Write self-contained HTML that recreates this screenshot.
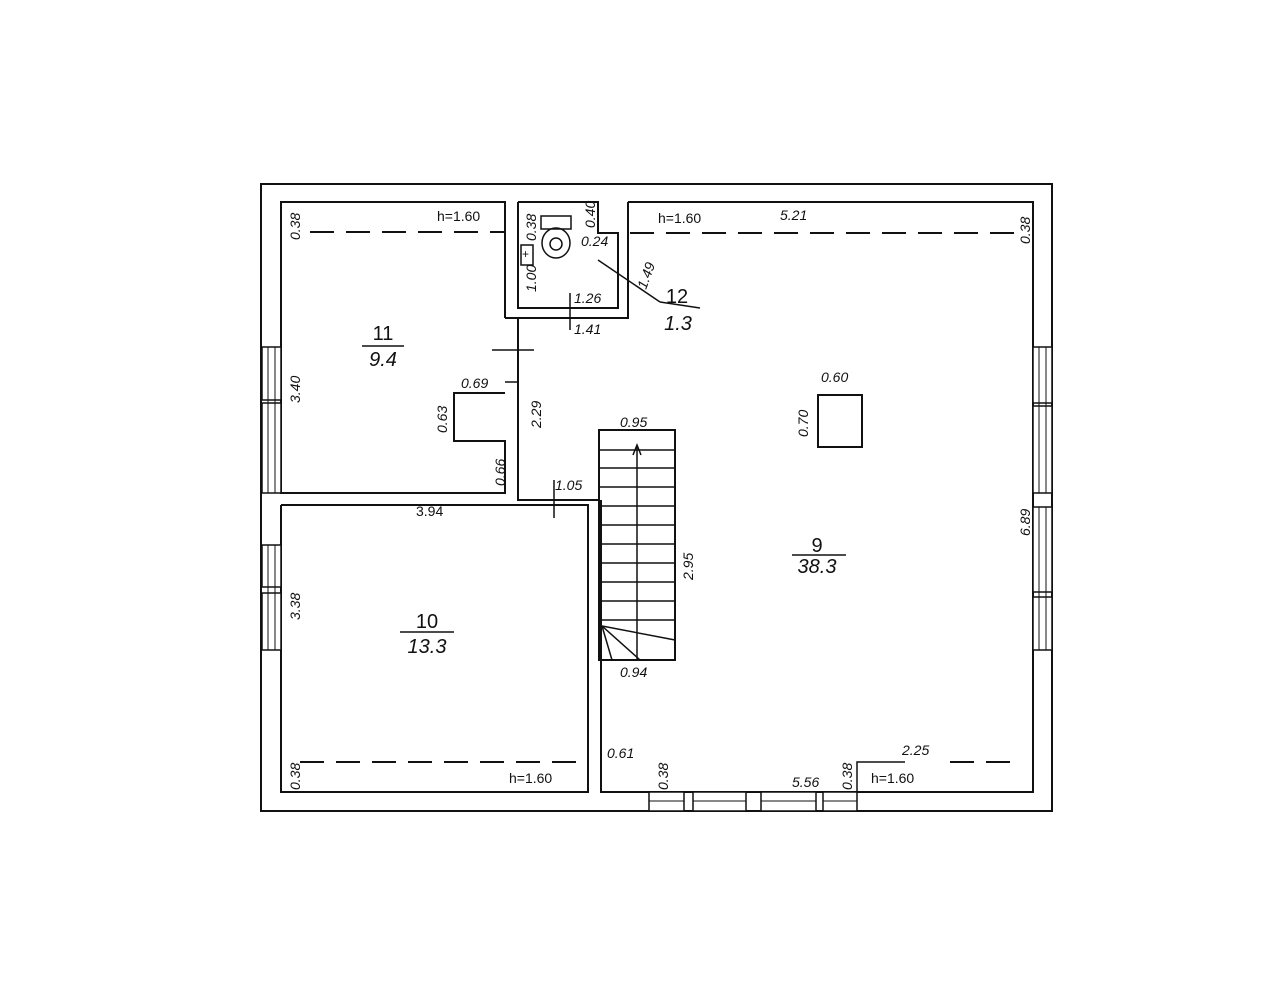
<!DOCTYPE html>
<html><head><meta charset="utf-8"><style>
html,body{margin:0;padding:0;background:#fff;}
svg{display:block;}
text{font-family:"Liberation Sans",sans-serif;fill:#111;}
.d{font-size:14px;font-style:italic;}
.u{font-size:14px;}
.r{font-size:20px;}
</style></head><body>
<svg width="1276" height="1003" viewBox="0 0 1276 1003" xmlns="http://www.w3.org/2000/svg">
<g fill="none" stroke="#111" stroke-width="2">
<rect x="261" y="184" width="791" height="627"/>
<polyline points="505,318 505,202 281,202 281,493 505,493 505,441 454,441 454,393 505,393"/>
<polyline points="505,318 628,318 628,202"/>
<polyline points="518,202 598,202 598,233 618,233 618,308 518,308 518,202"/>
<polyline points="518,318 518,500 598,500"/>
<polyline points="281,505 588,505 588,792 281,792 281,505"/>
<polyline points="628,202 1033,202 1033,792 601,792 601,500"/>
<rect x="599" y="430" width="76" height="230"/>
<line x1="637" y1="445" x2="637" y2="660" stroke-width="1.5"/>
</g>
<g stroke="#111" stroke-width="1.5">
<line x1="599" y1="450" x2="675" y2="450"/><line x1="599" y1="468" x2="675" y2="468"/>
<line x1="599" y1="487" x2="675" y2="487"/><line x1="599" y1="506" x2="675" y2="506"/>
<line x1="599" y1="525" x2="675" y2="525"/><line x1="599" y1="544" x2="675" y2="544"/>
<line x1="599" y1="563" x2="675" y2="563"/><line x1="599" y1="582" x2="675" y2="582"/>
<line x1="599" y1="601" x2="675" y2="601"/><line x1="599" y1="620" x2="675" y2="620"/>
<line x1="602" y1="626" x2="675" y2="640"/><line x1="602" y1="626" x2="640" y2="660"/><line x1="602" y1="626" x2="612" y2="660"/>
<polyline points="633,455 637,445 641,455" fill="none"/>
<rect x="818" y="395" width="44" height="52" fill="none" stroke-width="2"/>
<line x1="492" y1="350" x2="534" y2="350"/><line x1="570" y1="293" x2="570" y2="330"/>
<line x1="554" y1="480" x2="554" y2="518"/><line x1="598" y1="260" x2="660" y2="302"/><line x1="660" y1="302" x2="700" y2="308"/>
<line x1="505" y1="382" x2="518" y2="382"/>
</g>
<g stroke="#111" stroke-width="2" stroke-dasharray="24,12" fill="none">
<line x1="310" y1="232" x2="505" y2="232"/>
<line x1="630" y1="233" x2="1022" y2="233"/>
<line x1="300" y1="762" x2="588" y2="762"/>
<line x1="950" y1="762" x2="1022" y2="762"/>
</g>
<polyline points="857,792 857,762 905,762" fill="none" stroke="#111" stroke-width="1.5"/>
<g fill="#fff" stroke="#111" stroke-width="1.5">
<rect x="262" y="347" width="19" height="53"/><rect x="262" y="403" width="19" height="90"/>
<rect x="262" y="545" width="19" height="42"/><rect x="262" y="593" width="19" height="57"/>
<rect x="1033" y="347" width="19" height="56"/><rect x="1033" y="406" width="19" height="87"/>
<rect x="1033" y="507" width="19" height="85"/><rect x="1033" y="597" width="19" height="53"/>
<rect x="649" y="792" width="35" height="19"/><rect x="693" y="792" width="53" height="19"/>
<rect x="761" y="792" width="55" height="19"/><rect x="823" y="792" width="34" height="19"/>
</g>
<g stroke="#111" stroke-width="1"><line x1="268" y1="347" x2="268" y2="493"/><line x1="275" y1="347" x2="275" y2="493"/>
<line x1="268" y1="545" x2="268" y2="650"/><line x1="275" y1="545" x2="275" y2="650"/>
<line x1="1039" y1="347" x2="1039" y2="493"/><line x1="1046" y1="347" x2="1046" y2="493"/>
<line x1="1039" y1="507" x2="1039" y2="650"/><line x1="1046" y1="507" x2="1046" y2="650"/>
<line x1="649" y1="801" x2="684" y2="801"/><line x1="693" y1="801" x2="746" y2="801"/>
<line x1="761" y1="801" x2="816" y2="801"/><line x1="823" y1="801" x2="857" y2="801"/></g>
<rect x="541" y="216" width="30" height="13" fill="none" stroke="#111" stroke-width="1.5"/>
<ellipse cx="556" cy="243" rx="14" ry="15" fill="none" stroke="#111" stroke-width="1.5"/>
<circle cx="556" cy="244" r="6" fill="none" stroke="#111" stroke-width="1.5"/>
<rect x="521" y="245" width="12" height="20" fill="none" stroke="#111" stroke-width="1.5"/>
<text x="522" y="258" font-size="12">+</text>
<text class="r" x="383" y="340" text-anchor="middle">11</text><line x1="362" y1="346" x2="404" y2="346" stroke="#111" stroke-width="1.5"/><text class="r" x="383" y="366" text-anchor="middle" font-style="italic">9.4</text>
<text class="r" x="427" y="628" text-anchor="middle">10</text><line x1="400" y1="632" x2="454" y2="632" stroke="#111" stroke-width="1.5"/><text class="r" x="427" y="653" text-anchor="middle" font-style="italic">13.3</text>
<text class="r" x="817" y="552" text-anchor="middle">9</text><line x1="792" y1="555" x2="846" y2="555" stroke="#111" stroke-width="1.5"/><text class="r" x="817" y="573" text-anchor="middle" font-style="italic">38.3</text>
<text class="r" x="677" y="303" text-anchor="middle">12</text><text class="r" x="678" y="330" text-anchor="middle" font-style="italic">1.3</text>
<text class="u" x="437" y="221">h=1.60</text>
<text class="u" x="658" y="223">h=1.60</text>
<text class="d" x="780" y="220">5.21</text>
<text class="u" x="509" y="783">h=1.60</text>
<text class="u" x="871" y="783">h=1.60</text>
<text class="d" x="902" y="755">2.25</text>
<text class="d" x="792" y="787">5.56</text>
<text class="d" x="607" y="758">0.61</text>
<text class="d" x="620" y="427">0.95</text>
<text class="d" x="620" y="677">0.94</text>
<text class="d" x="821" y="382">0.60</text>
<text class="u" x="416" y="516">3.94</text>
<text class="d" x="555" y="490">1.05</text>
<text class="d" x="461" y="388">0.69</text>
<text class="d" x="581" y="246">0.24</text>
<text class="d" x="574" y="303">1.26</text>
<text class="d" x="574" y="334">1.41</text>
<g class="d">
<text transform="translate(300,240) rotate(-90)">0.38</text>
<text transform="translate(1030,244) rotate(-90)">0.38</text>
<text transform="translate(300,790) rotate(-90)">0.38</text>
<text transform="translate(668,790) rotate(-90)">0.38</text>
<text transform="translate(852,790) rotate(-90)">0.38</text>
<text transform="translate(300,403) rotate(-90)">3.40</text>
<text transform="translate(300,620) rotate(-90)">3.38</text>
<text transform="translate(1030,536) rotate(-90)">6.89</text>
<text transform="translate(693,580) rotate(-90)">2.95</text>
<text transform="translate(808,437) rotate(-90)">0.70</text>
<text transform="translate(541,428) rotate(-90)">2.29</text>
<text transform="translate(447,433) rotate(-90)">0.63</text>
<text transform="translate(505,486) rotate(-90)">0.66</text>
<text transform="translate(536,241) rotate(-90)">0.38</text>
<text transform="translate(595,228) rotate(-90)">0.40</text>
<text transform="translate(536,292) rotate(-90)">1.00</text>
<text transform="translate(646,290) rotate(-70)">1.49</text>
</g>
</svg>
</body></html>
